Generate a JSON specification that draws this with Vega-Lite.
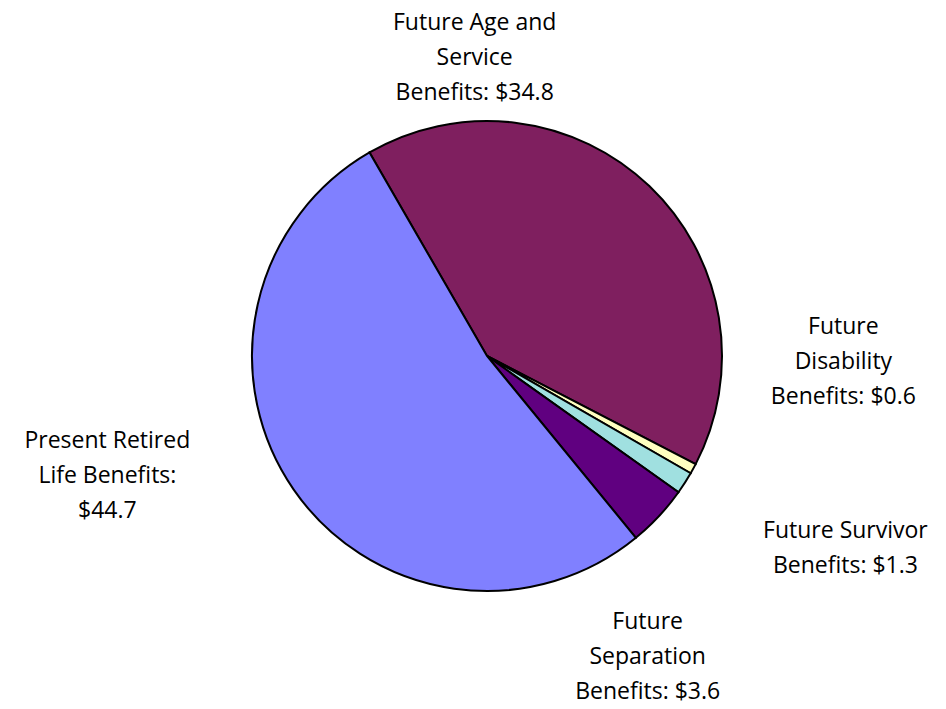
{
  "$schema": "https://vega.github.io/schema/vega-lite/v6.json",
  "width": 974,
  "height": 712,
  "autosize": "none",
  "padding": 0,
  "background": "white",
  "config": {"view": {"stroke": null}},
  "data": {
    "values": [
      {"category": "Future Age and Service Benefits", "value": 34.8, "order": 1, "label": "Future Age and|Service|Benefits: $34.8"},
      {"category": "Future Disability Benefits", "value": 0.6, "order": 2, "label": "Future|Disability|Benefits:  $0.6"},
      {"category": "Future Survivor Benefits", "value": 1.3, "order": 3, "label": "Future Survivor|Benefits:  $1.3"},
      {"category": "Future Separation Benefits", "value": 3.6, "order": 4, "label": "Future|Separation|Benefits:  $3.6"},
      {"category": "Present Retired Life Benefits", "value": 44.7, "order": 5, "label": "Present Retired|Life Benefits:|$44.7"}
    ]
  },
  "encoding": {
    "theta": {"field": "value", "type": "quantitative", "stack": true, "scale": {"range": [-0.5236, 5.7596]}},
    "order": {"field": "order", "type": "quantitative"}
  },
  "layer": [
    {
      "mark": {"type": "arc", "radius": 235, "stroke": "black", "strokeWidth": 2},
      "encoding": {
        "color": {
          "field": "category",
          "type": "nominal",
          "legend": null,
          "scale": {
            "domain": ["Future Age and Service Benefits", "Future Disability Benefits", "Future Survivor Benefits", "Future Separation Benefits", "Present Retired Life Benefits"],
            "range": ["#7F1F5F", "#FFFFC0", "#A0E0E0", "#600080", "#8080FF"]
          }
        }
      }
    },
    {
      "mark": {"type": "text", "radius": 250, "dx": -185, "dy": -152, "font": "Open Sans", "fontSize": 23, "lineBreak": "|", "lineHeight": 35, "align": "center", "baseline": "middle", "color": "black"},
      "encoding": {"text": {"condition": {"test": "datum.order == 1", "field": "label"}, "value": ""}}
    },
    {
      "mark": {"type": "text", "radius": 250, "dx": 137, "dy": -149, "font": "Open Sans", "fontSize": 23, "lineBreak": "|", "lineHeight": 35, "align": "center", "baseline": "middle", "color": "black"},
      "encoding": {"text": {"condition": {"test": "datum.order == 2", "field": "label"}, "value": ""}}
    },
    {
      "mark": {"type": "text", "radius": 250, "dx": 148, "dy": 40, "font": "Open Sans", "fontSize": 23, "lineBreak": "|", "lineHeight": 35, "align": "center", "baseline": "middle", "color": "black"},
      "encoding": {"text": {"condition": {"test": "datum.order == 3", "field": "label"}, "value": ""}}
    },
    {
      "mark": {"type": "text", "radius": 250, "dx": -22, "dy": 95, "font": "Open Sans", "fontSize": 23, "lineBreak": "|", "lineHeight": 35, "align": "center", "baseline": "middle", "color": "black"},
      "encoding": {"text": {"condition": {"test": "datum.order == 4", "field": "label"}, "value": ""}}
    },
    {
      "mark": {"type": "text", "radius": 250, "dx": -174, "dy": -57, "font": "Open Sans", "fontSize": 23, "lineBreak": "|", "lineHeight": 35, "align": "center", "baseline": "middle", "color": "black"},
      "encoding": {"text": {"condition": {"test": "datum.order == 5", "field": "label"}, "value": ""}}
    }
  ]
}
